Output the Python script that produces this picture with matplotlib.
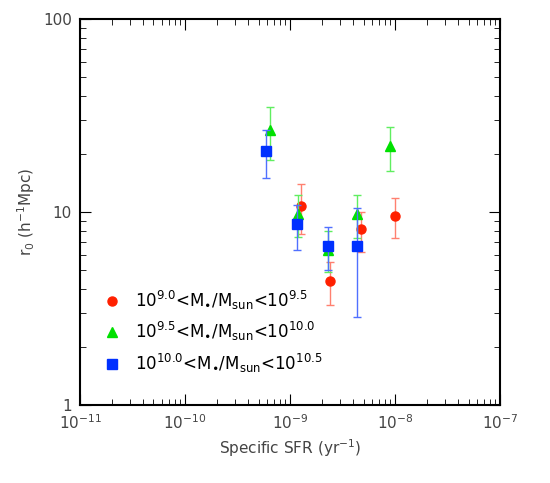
import numpy as np
import matplotlib.pyplot as plt

# data
red_x = [1.28e-9, 2.41e-9, 4.69e-9, 1.0e-8]
red_y = [10.8, 4.41, 8.13, 9.53]
red_hi = [14.0, 5.5, 10.0, 11.8]
red_lo = [7.7, 3.28, 6.23, 7.31]

green_x = [6.44e-10, 1.19e-9, 2.3e-9, 4.3e-9, 8.84e-9]
green_y = [26.7, 9.8, 6.34, 9.8, 21.9]
green_hi = [35.2, 12.2, 7.97, 12.3, 27.7]
green_lo = [18.5, 7.43, 4.9, 7.37, 16.3]

blue_x = [5.91e-10, 1.17e-9, 2.27e-9, 4.34e-9]
blue_y = [20.8, 8.63, 6.67, 6.67]
blue_hi = [26.7, 10.9, 8.33, 10.5]
blue_lo = [15.0, 6.38, 4.99, 2.85]

labels = [r'$10^{9.0}$<M$_{\bullet}$/M$_{\rm sun}$<$10^{9.5}$',
          r'$10^{9.5}$<M$_{\bullet}$/M$_{\rm sun}$<$10^{10.0}$',
          r'$10^{10.0}$<M$_{\bullet}$/M$_{\rm sun}$<$10^{10.5}$']

fig = plt.figure(figsize=(5.5, 4.83), dpi=100)
ax = fig.add_axes([0.1455, 0.1615, 0.764, 0.799])

series = [(red_x, red_y, red_hi, red_lo, 'o', '#ff2000', '#ff8070'),
          (green_x, green_y, green_hi, green_lo, '^', '#00e000', '#60ee60'),
          (blue_x, blue_y, blue_hi, blue_lo, 's', '#0030ff', '#5070ff')]
for (x, y, hi, lo, m, c, ec), lab in zip(series, labels):
    y = np.array(y)
    err = [y - np.array(lo), np.array(hi) - y]
    ax.errorbar(x, y, yerr=err, fmt='none', ecolor=ec, elinewidth=1, capsize=3)
    ax.plot(x, y, m, color=c, ms=6.5, ls='none', label=lab)

ax.set_xscale('log')
ax.set_yscale('log')
ax.set_xlim(1e-11, 1e-7)
ax.set_ylim(1, 100)
ax.set_yticks([1, 10, 100])
ax.set_yticklabels(['1', '10', '100'])
ax.tick_params(which='both', direction='in', top=True, right=True,
               labelcolor='#444444', labelsize=11, pad=6)
ax.tick_params(which='major', length=8)
ax.tick_params(which='minor', length=4)
for s in ax.spines.values():
    s.set_linewidth(1.5)
ax.set_xlabel(r'Specific SFR (yr$^{-1}$)', color='#444444', fontsize=11)
ax.set_ylabel(r'r$_0$ (h$^{-1}$Mpc)', color='#444444', fontsize=11)
ax.legend(loc='upper left', bbox_to_anchor=(0.0, 0.34), frameon=False,
          fontsize=12, handletextpad=0.4, labelspacing=0.5)

fig.savefig('out.png')
